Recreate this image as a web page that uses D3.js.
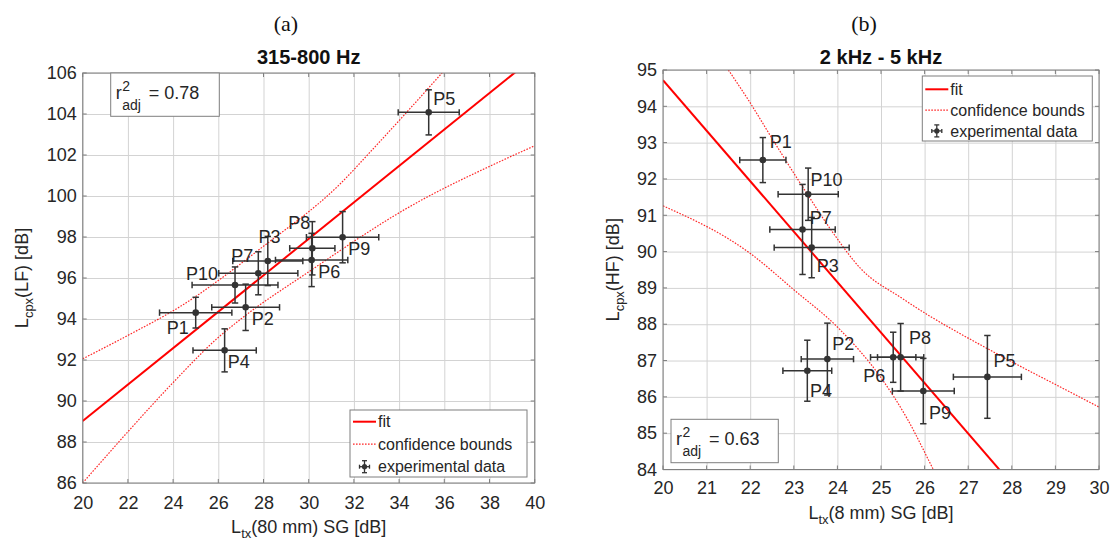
<!DOCTYPE html>
<html><head><meta charset="utf-8">
<script src="https://cdn.jsdelivr.net/npm/d3@7"></script>
<style>
body{margin:0;background:#fff}
text{font-family:"Liberation Sans",Arial,sans-serif}
text.serif{font-family:"Liberation Serif","Times New Roman",serif}
</style>
</head><body>
<svg id="c" width="1114" height="549"></svg>
<script>
// ---------- DATA ----------
const pointNames = ["P1","P2","P3","P4","P5","P6","P7","P8","P9","P10"];

// Panel (a) 315-800 Hz
const leftX    = [25.0, 27.21, 28.19, 26.28, 35.31, 30.13, 27.77, 30.16, 31.5, 26.74];
const leftY    = [94.31, 94.57, 96.83, 92.47, 104.08, 96.88, 96.23, 97.45, 97.99, 95.66];
const leftXErr = [1.6, 1.5, 1.55, 1.4, 1.35, 1.6, 1.75, 1.0, 1.6, 1.9];
const leftYErr = [0.75, 1.13, 1.2, 1.05, 1.1, 1.3, 1.05, 1.3, 1.25, 0.88];
const leftFitX = [20, 40];
const leftFitY = [89.02, 106.8];
const leftUpperX = [20, 22, 24.3, 28, 31.4, 32.8, 35.9];
const leftUpperY = [92.06, 93.2, 94.6, 97.55, 100.6, 102.24, 106];
const leftLowerX = [20, 22, 24, 26, 27, 30, 34.5, 38.5, 40];
const leftLowerY = [86.0, 88.5, 90.9, 93.1, 94.0, 96.3, 99.5, 101.7, 102.45];
const leftXTicks = [20,22,24,26,28,30,32,34,36,38,40];
const leftYTicks = [86,88,90,92,94,96,98,100,102,104,106];
const leftR2 = "0.78";

// Panel (b) 2 kHz - 5 kHz
const rightX    = [22.29, 23.77, 23.41, 23.31, 27.44, 25.28, 23.2, 25.45, 25.97, 23.33];
const rightY    = [92.52, 87.04, 90.11, 86.72, 86.55, 87.09, 90.61, 87.09, 86.16, 91.58];
const rightXErr = [0.53, 0.6, 0.86, 0.56, 0.78, 0.52, 0.75, 0.53, 0.71, 0.69];
const rightYErr = [0.62, 0.99, 0.83, 0.84, 1.14, 0.69, 1.24, 0.93, 0.9, 0.72];
const rightFitX = [20, 30];
const rightFitY = [94.72, 80.82];
const rightUpperX = [21.5, 21.96, 22.57, 23.3, 23.91, 24.52, 25.5, 27.73, 29.1, 30];
const rightUpperY = [95, 94.17, 92.98, 91.6, 90.5, 89.55, 88.7, 87.14, 86.28, 85.72];
const rightLowerX = [20, 22, 23, 24.06, 24.98, 25.6, 26.2, 26.5];
const rightLowerY = [91.26, 89.95, 88.95, 87.85, 86.56, 85.4, 84.0, 83.3];
const rightXTicks = [20,21,22,23,24,25,26,27,28,29,30];
const rightYTicks = [84,85,86,87,88,89,90,91,92,93,94,95];
const rightR2 = "0.63";

// ---------- LAYOUT (pixels) ----------
const leftLabelDx  = [-29, 6, -9.4, 3, 4.6, 6.6, -27, -24, 5.6, -49];
const leftLabelDy  = [21, 18, -18, 18, -7, 18, -11.6, -19, 17.7, -5];
const rightLabelDx = [7, 5, 5, 2.7, 6, -30, 7.3, 8.3, 5.7, 2.4];
const rightLabelDy = [-11.7, -9, 24, 26, -10, 25, -5, -13, 28, -8.3];

const svg = d3.select("#c");
const AX = "#7f7f7f", GRID = "#d3d3d3", TXT = "#262626", ERR = "#333333", RED = "#ff0000";

function zip(a, b){ return a.map((v,i)=>[v,b[i]]); }

function panel(o){
  const g = svg.append("g");
  const [xa, xb] = o.x.range();
  const [yb, ya] = o.y.range();
  const W = xb - xa, H = yb - ya;

  // grid
  g.append("g").attr("transform",`translate(0,${yb})`)
    .call(d3.axisBottom(o.x).tickValues(o.xTicks).tickSize(-H).tickFormat(""))
    .call(s=>{s.select(".domain").remove(); s.selectAll("line").attr("stroke",GRID).attr("stroke-width",1);});
  g.append("g").attr("transform",`translate(${xa},0)`)
    .call(d3.axisLeft(o.y).tickValues(o.yTicks).tickSize(-W).tickFormat(""))
    .call(s=>{s.select(".domain").remove(); s.selectAll("line").attr("stroke",GRID).attr("stroke-width",1);});

  // clip
  const cid = "clip" + o.id;
  svg.append("clipPath").attr("id",cid).append("rect").attr("x",xa).attr("y",ya).attr("width",W).attr("height",H);
  const pl = g.append("g").attr("clip-path",`url(#${cid})`);
  const line = d3.line().x(d=>o.x(d[0])).y(d=>o.y(d[1]));
  const curve = d3.line().x(d=>o.x(d[0])).y(d=>o.y(d[1])).curve(d3.curveMonotoneX);

  pl.append("path").attr("d",curve(zip(o.upX,o.upY))).attr("fill","none").attr("stroke",RED).attr("stroke-width",1.2).attr("stroke-dasharray","1.6,1.4").attr("opacity",0.85);
  pl.append("path").attr("d",curve(zip(o.loX,o.loY))).attr("fill","none").attr("stroke",RED).attr("stroke-width",1.2).attr("stroke-dasharray","1.6,1.4").attr("opacity",0.85);
  pl.append("path").attr("d",line(zip(o.fitX,o.fitY))).attr("fill","none").attr("stroke",RED).attr("stroke-width",2);

  // error bars
  const cap = 3.2;
  o.px.forEach((xv,i)=>{
    const cx = o.x(xv), cy = o.y(o.py[i]);
    const xl = o.x(xv - o.ex[i]), xr = o.x(xv + o.ex[i]);
    const yt = o.y(o.py[i] + o.ey[i]), ybt = o.y(o.py[i] - o.ey[i]);
    const e = g.append("g").attr("stroke",ERR).attr("stroke-width",1.5);
    e.append("line").attr("x1",xl).attr("x2",xr).attr("y1",cy).attr("y2",cy);
    e.append("line").attr("x1",xl).attr("x2",xl).attr("y1",cy-cap).attr("y2",cy+cap);
    e.append("line").attr("x1",xr).attr("x2",xr).attr("y1",cy-cap).attr("y2",cy+cap);
    e.append("line").attr("x1",cx).attr("x2",cx).attr("y1",yt).attr("y2",ybt);
    e.append("line").attr("x1",cx-cap).attr("x2",cx+cap).attr("y1",yt).attr("y2",yt);
    e.append("line").attr("x1",cx-cap).attr("x2",cx+cap).attr("y1",ybt).attr("y2",ybt);
    g.append("circle").attr("cx",cx).attr("cy",cy).attr("r",3.3).attr("fill",ERR);
    g.append("text").attr("x",cx + o.ldx[i]).attr("y",cy + o.ldy[i])
      .attr("font-size",18).attr("fill",TXT).text(pointNames[i]);
  });

  // box
  g.append("rect").attr("x",xa).attr("y",ya).attr("width",W).attr("height",H)
    .attr("fill","none").attr("stroke",AX).attr("stroke-width",1);

  // tick labels
  g.append("g").attr("transform",`translate(0,${yb})`)
    .call(d3.axisBottom(o.x).tickValues(o.xTicks).tickSize(0).tickPadding(o.xPad).tickFormat(d3.format("d")))
    .call(s=>{s.select(".domain").remove(); s.selectAll("text").attr("font-size",18).attr("fill",TXT);});
  g.append("g").attr("transform",`translate(${xa},0)`)
    .call(d3.axisLeft(o.y).tickValues(o.yTicks).tickSize(0).tickPadding(6).tickFormat(d3.format("d")))
    .call(s=>{s.select(".domain").remove(); s.selectAll("text").attr("font-size",18).attr("fill",TXT);});

  // inner ticks
  const tk = g.append("g").attr("stroke",AX).attr("stroke-width",1);
  o.xTicks.forEach(t=>{
    tk.append("line").attr("x1",o.x(t)).attr("x2",o.x(t)).attr("y1",yb).attr("y2",yb-4);
    tk.append("line").attr("x1",o.x(t)).attr("x2",o.x(t)).attr("y1",ya).attr("y2",ya+4);
  });
  o.yTicks.forEach(t=>{
    tk.append("line").attr("x1",xa).attr("x2",xa+4).attr("y1",o.y(t)).attr("y2",o.y(t));
    tk.append("line").attr("x1",xb).attr("x2",xb-4).attr("y1",o.y(t)).attr("y2",o.y(t));
  });

  // titles
  svg.append("text").attr("class","serif").attr("x",o.tagX).attr("y",31).attr("text-anchor","middle")
    .attr("font-size",22).attr("fill","#111").text(o.tag);
  svg.append("text").attr("x",(xa+xb)/2).attr("y",64).attr("text-anchor","middle")
    .attr("font-size",20).attr("font-weight","bold").attr("fill","#111").text(o.title);

  // x label
  const xl = svg.append("text").attr("x",(xa+xb)/2).attr("y",o.xLabY).attr("text-anchor","middle")
    .attr("font-size",18).attr("fill",TXT);
  xl.append("tspan").text("L");
  xl.append("tspan").attr("font-size",13).attr("dy",5).text("tx");
  xl.append("tspan").attr("dy",-5).text(o.xLab);

  // y label
  const yl = svg.append("text").attr("transform",`translate(${o.yLabX},${(ya+yb)/2}) rotate(-90)`)
    .attr("text-anchor","middle").attr("font-size",18).attr("fill",TXT);
  yl.append("tspan").text("L");
  yl.append("tspan").attr("font-size",13).attr("dy",5).text("cpx");
  yl.append("tspan").attr("dy",-5).text(o.yLab);

  // r2 box
  const rb = o.r2Box;
  g.append("rect").attr("x",rb[0]).attr("y",rb[1]).attr("width",rb[2]).attr("height",rb[3])
    .attr("fill","#fff").attr("stroke",AX).attr("stroke-width",1);
  const rt = g.append("text").attr("x",rb[0]+5).attr("y",rb[1]+26).attr("font-size",18).attr("fill",TXT).text("r");
  const rw = rt.node().getComputedTextLength();
  g.append("text").attr("x",rb[0]+5+rw+0.5).attr("y",rb[1]+18).attr("font-size",14).attr("fill",TXT).text("2");
  g.append("text").attr("x",rb[0]+5+rw+0.5).attr("y",rb[1]+37).attr("font-size",14).attr("fill",TXT).text("adj");
  g.append("text").attr("x",rb[0]+38).attr("y",rb[1]+26).attr("font-size",18).attr("fill",TXT).text("= " + o.r2);

  // legend
  const L = o.leg;
  const lg = g.append("g");
  lg.append("rect").attr("x",L.x).attr("y",L.y).attr("width",L.w).attr("height",L.h)
    .attr("fill","#fff").attr("stroke",AX).attr("stroke-width",1);
  const rows = [L.y + L.r0, L.y + L.r0 + L.dr, L.y + L.r0 + 2*L.dr];
  lg.append("line").attr("x1",L.x+3).attr("x2",L.x+26).attr("y1",rows[0]).attr("y2",rows[0]).attr("stroke",RED).attr("stroke-width",2);
  lg.append("line").attr("x1",L.x+3).attr("x2",L.x+26).attr("y1",rows[1]).attr("y2",rows[1]).attr("stroke",RED).attr("stroke-width",1.2).attr("stroke-dasharray","1.6,1.4").attr("opacity",0.85);
  const ix = L.x + 14.5, iy = rows[2];
  const ic = lg.append("g").attr("stroke",ERR).attr("stroke-width",1.3);
  ic.append("line").attr("x1",ix-5).attr("x2",ix+5).attr("y1",iy).attr("y2",iy);
  ic.append("line").attr("x1",ix).attr("x2",ix).attr("y1",iy-6).attr("y2",iy+6);
  ic.append("line").attr("x1",ix-2.5).attr("x2",ix+2.5).attr("y1",iy-6).attr("y2",iy-6);
  ic.append("line").attr("x1",ix-2.5).attr("x2",ix+2.5).attr("y1",iy+6).attr("y2",iy+6);
  ic.append("line").attr("x1",ix-5).attr("x2",ix-5).attr("y1",iy-2).attr("y2",iy+2);
  ic.append("line").attr("x1",ix+5).attr("x2",ix+5).attr("y1",iy-2).attr("y2",iy+2);
  lg.append("circle").attr("cx",ix).attr("cy",iy).attr("r",2.6).attr("fill",ERR);
  ["fit","confidence bounds","experimental data"].forEach((t,i)=>{
    lg.append("text").attr("x",L.x+28).attr("y",rows[i]).attr("dy","0.35em")
      .attr("font-size",16).attr("fill",TXT).text(t);
  });
}

panel({
  id:"L", tag:"(a)", tagX:286, title:"315-800 Hz",
  x:d3.scaleLinear().domain([20,40]).range([82.7,534.7]),
  y:d3.scaleLinear().domain([86,106]).range([483,73]),
  xTicks:leftXTicks, yTicks:leftYTicks, xPad:13,
  px:leftX, py:leftY, ex:leftXErr, ey:leftYErr, ldx:leftLabelDx, ldy:leftLabelDy,
  fitX:leftFitX, fitY:leftFitY, upX:leftUpperX, upY:leftUpperY, loX:leftLowerX, loY:leftLowerY,
  xLab:"(80 mm) SG [dB]", xLabY:533, yLab:"(LF) [dB]", yLabX:28,
  r2:leftR2, r2Box:[110.7,73,108.6,43.3],
  leg:{x:350,y:410,w:177,h:67,r0:11.7,dr:22.5}
});

panel({
  id:"R", tag:"(b)", tagX:864, title:"2 kHz - 5 kHz",
  x:d3.scaleLinear().domain([20,30]).range([663,1099]),
  y:d3.scaleLinear().domain([84,95]).range([469.5,70]),
  xTicks:rightXTicks, yTicks:rightYTicks, xPad:12,
  px:rightX, py:rightY, ex:rightXErr, ey:rightYErr, ldx:rightLabelDx, ldy:rightLabelDy,
  fitX:rightFitX, fitY:rightFitY, upX:rightUpperX, upY:rightUpperY, loX:rightLowerX, loY:rightLowerY,
  xLab:"(8 mm) SG [dB]", xLabY:519, yLab:"(HF) [dB]", yLabX:619,
  r2:rightR2, r2Box:[671,419.3,107.3,43.4],
  leg:{x:922.3,y:76,w:170,h:65,r0:13.3,dr:20.8}
});
</script>
</body></html>
